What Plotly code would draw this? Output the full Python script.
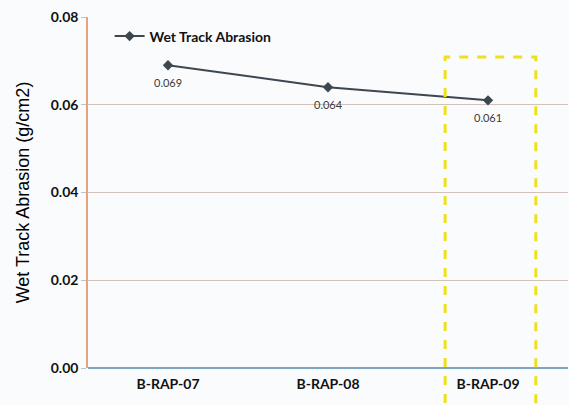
import plotly.graph_objects as go

# Wet track abrasion results per mix
categories = ["B-RAP-07", "B-RAP-08", "B-RAP-09"]
abrasion = [0.069, 0.064, 0.061]
label_text = ["0.069", "0.064", "0.061"]
y_ticks = [0.00, 0.02, 0.04, 0.06, 0.08]
y_tick_text = ["0.00", "0.02", "0.04", "0.06", "0.08"]

FONT = "Lato, 'Open Sans', sans-serif"
TITLE_FONT = "'Liberation Sans', Arial, sans-serif"
BG = "#fafbfd"

fig = go.Figure()
fig.add_trace(go.Scatter(
    x=categories,
    y=abrasion,
    mode="lines+markers",
    name="Wet Track Abrasion",
    line=dict(color="#3c4750", width=2),
    marker=dict(symbol="diamond", size=8, color="#3c4750"),
))

# Value labels set a little below each point
for cat, val, txt in zip(categories, abrasion, label_text):
    fig.add_annotation(
        x=cat, y=val, text=txt, showarrow=False,
        yshift=-17, font=dict(family=FONT, size=11, color="#3a3a3a"),
    )

# Highlight box around the last mix
fig.add_shape(
    type="rect", xref="paper", yref="paper",
    x0=0.744, x1=0.933, y0=-0.15, y1=0.886,
    line=dict(color="#eee11c", width=3, dash="dash"),
    fillcolor="rgba(0,0,0,0)",
)

fig.update_layout(
    width=569, height=405,
    margin=dict(l=88, r=1, t=17, b=37),
    paper_bgcolor=BG, plot_bgcolor=BG,
    font=dict(family=FONT, color="#1a1a1a"),
    showlegend=True,
    legend=dict(
        x=0.045, y=0.99, xanchor="left", yanchor="top",
        bgcolor="rgba(0,0,0,0)",
        font=dict(family=FONT, size=14, color="#111111", weight="bold"),
        itemwidth=30,
    ),
    xaxis=dict(
        type="category",
        range=[-0.5, 2.5],
        showgrid=False,
        showline=False,
        ticks="",
        ticklabelstandoff=6,
        tickfont=dict(family=FONT, size=14, color="#111111", weight="bold"),
    ),
    yaxis=dict(
        range=[0, 0.08],
        tickvals=y_ticks,
        ticktext=y_tick_text,
        showgrid=True,
        gridcolor="#d2c0bc",
        gridwidth=1,
        zeroline=True,
        zerolinecolor="#7ea6bc",
        zerolinewidth=1.5,
        showline=True,
        linecolor="#e6a27e",
        linewidth=1.5,
        ticks="outside",
        ticklen=5,
        tickcolor="#b8c4cc",
        tickfont=dict(family=FONT, size=14, color="#111111", weight="bold"),
        title=dict(
            text="Wet Track Abrasion (g/cm2)",
            font=dict(family=TITLE_FONT, size=18, color="#000000"),
            standoff=16,
        ),
    ),
)

fig.write_html("out.html")
